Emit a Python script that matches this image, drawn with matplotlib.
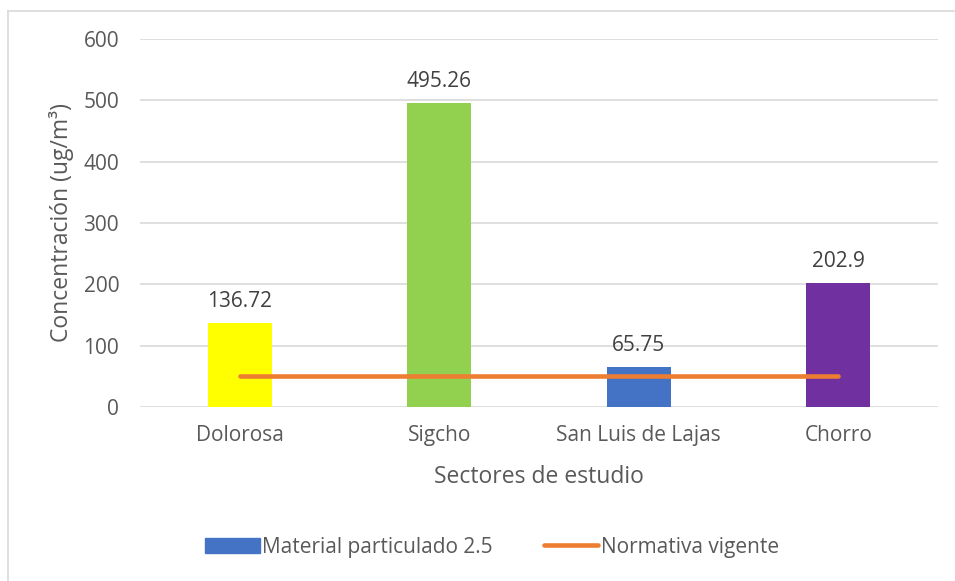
import matplotlib
matplotlib.use('Agg')
import matplotlib.pyplot as plt
from matplotlib.lines import Line2D
from matplotlib.patches import Patch

sectores = ["Dolorosa", "Sigcho", "San Luis de Lajas", "Chorro"]
pm25 = [136.72, 495.26, 65.75, 202.9]
normativa = [50, 50, 50, 50]
etiquetas = ["136.72", "495.26", "65.75", "202.9"]
colores = ["#FFFF00", "#92D050", "#4472C4", "#7030A0"]

plt.rcParams['font.family'] = ['Open Sans', 'DejaVu Sans']
gris = '#595959'

fig = plt.figure(figsize=(9.55, 5.81), dpi=100)
ax = fig.add_axes([140 / 955, 174 / 581, 798 / 955, 368 / 581])

x = range(len(sectores))
ax.bar(x, pm25, width=0.32, color=colores, zorder=2)
ax.plot(x, normativa, color='#ED7D31', lw=3.3, solid_capstyle='round', zorder=3)

for i, v in enumerate(pm25):
    ax.annotate(etiquetas[i], (i, v), xytext=(0, 11.5), textcoords='offset points',
                ha='center', va='baseline', fontsize=15, color='#404040')

ax.set_xlim(-0.5, 3.5)
ax.set_ylim(0, 600)
ax.set_yticks(range(0, 601, 100))
ax.set_xticks(list(x))
ax.set_xticklabels(sectores)
ax.tick_params(length=0, labelsize=15, labelcolor=gris)
ax.tick_params(axis='y', pad=15)
ax.tick_params(axis='x', pad=13)
ax.grid(axis='y', color='#D9D9D9', lw=1.2, zorder=0)
for s in ax.spines.values():
    s.set_visible(False)

ax.set_ylabel("Concentración (ug/m³)", fontsize=16.5, color=gris)
ax.set_xlabel("Sectores de estudio", fontsize=16.5, color=gris)
ax.yaxis.set_label_coords(-0.098, 0.5)
ax.yaxis.label.set_va('center')
ax.xaxis.set_label_coords(0.5, -0.19)
ax.xaxis.label.set_va('center')

handles = [Patch(color='#4472C4'),
           Line2D([], [], color='#ED7D31', lw=3.3, solid_capstyle='round')]
fig.legend(handles, ["Material particulado 2.5", "Normativa vigente"],
           loc='center', bbox_to_anchor=(492 / 955, 1 - 547 / 581), ncol=2,
           frameon=False, fontsize=15, labelcolor=gris, handlelength=2.6,
           handleheight=0.72, handletextpad=0.1, columnspacing=2.5)

# borde del area del grafico
fig.add_artist(Line2D([7.5 / 955, 7.5 / 955], [0, 1 - 10.5 / 581],
                      transform=fig.transFigure, color='#D9D9D9', lw=1.2))
fig.add_artist(Line2D([7.5 / 955, 1], [1 - 10.5 / 581, 1 - 10.5 / 581],
                      transform=fig.transFigure, color='#D9D9D9', lw=1.2))

fig.savefig('out.png', dpi=100)
